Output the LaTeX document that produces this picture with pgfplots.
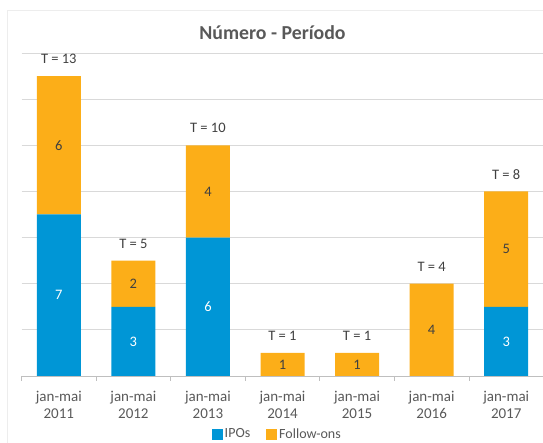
\documentclass[border=0pt]{standalone}
\usepackage{fontspec}
\setmainfont{Carlito}
\usepackage{pgfplots}
\pgfplotsset{compat=1.18}

\definecolor{ipo}{RGB}{0,150,214}
\definecolor{fol}{RGB}{252,174,24}
\definecolor{txt}{RGB}{89,89,89}
\definecolor{dtxt}{RGB}{64,64,64}
\definecolor{grd}{RGB}{217,217,217}

\pgfplotsset{base/.style={
    width=522pt, height=323pt, scale only axis,
    xmin=-0.5, xmax=6.5, ymin=0, ymax=14,
}}

\begin{document}
\begin{tikzpicture}
\begin{axis}[base, ybar stacked, bar width=44pt,
    axis x line*=bottom, axis y line*=left,
    y axis line style={draw=none},
    x axis line style={color=black!25, line width=0.8pt},
    major tick length=0pt,
    ytick={0,2,...,14}, yticklabels={},
    ymajorgrids, y grid style={grd, line width=0.8pt},
    xtick={0,...,6},
    xticklabels={{jan-mai\\2011},{jan-mai\\2012},{jan-mai\\2013},{jan-mai\\2014},{jan-mai\\2015},{jan-mai\\2016},{jan-mai\\2017}},
    xticklabel style={align=center, yshift=-12pt, font=\fontsize{15}{17}\selectfont, text=txt},
    extra x ticks={-0.5,0.5,...,6.5}, extra x tick labels={},
    extra x tick style={major tick length=5pt, tick align=outside,
        tick style={draw=black!25, line width=0.8pt}},
    legend columns=2,
    legend style={at={(0.49,-0.18)}, anchor=center, draw=none,
        font=\fontsize{14}{16}\selectfont, text=txt,
        /tikz/every even column/.append style={column sep=14pt}},
    legend image code/.code={\fill[#1] (0pt,-5.5pt) rectangle (11pt,5.5pt);},
]
\addplot[fill=ipo, draw=none] coordinates {(0,7) (1,3) (2,6) (3,0) (4,0) (5,0) (6,3)};
\addplot[fill=fol, draw=none] coordinates {(0,6) (1,2) (2,4) (3,1) (4,1) (5,4) (6,5)};
\legend{IPOs, Follow-ons}
\coordinate (O) at (rel axis cs:0,0);
\end{axis}

\begin{axis}[base, hide axis, clip=false]
% IPO segment labels (middle of segment)
\addplot[draw=none, mark=none, nodes near coords, point meta=explicit symbolic,
    nodes near coords style={anchor=center, text=white, font=\fontsize{14.5}{16}\selectfont}]
    coordinates {(0,3.5)[7] (1,1.5)[3] (2,3)[6] (6,1.5)[3]};
% Follow-on segment labels
\addplot[draw=none, mark=none, nodes near coords, point meta=explicit symbolic,
    nodes near coords style={anchor=center, text=dtxt, font=\fontsize{14.5}{16}\selectfont}]
    coordinates {(0,10)[6] (1,4)[2] (2,8)[4] (3,0.5)[1] (4,0.5)[1] (5,2)[4] (6,5.5)[5]};
% totals
\addplot[draw=none, mark=none, nodes near coords, point meta=explicit symbolic,
    nodes near coords style={anchor=center, yshift=17pt, text=dtxt, font=\fontsize{14.5}{16}\selectfont}]
    coordinates {(0,13)[T = 13] (1,5)[T = 5] (2,10)[T = 10] (3,1)[T = 1] (4,1)[T = 1] (5,4)[T = 4] (6,8)[T = 8]};
\end{axis}

\draw[color=black!7] ([shift={(-14.5pt,-67pt)}]O) -- ([shift={(-14.5pt,366pt)}]O) -- ([shift={(521.5pt,366pt)}]O);
\node[font=\fontsize{19.8}{22}\selectfont\bfseries, text=txt] at ([shift={(251pt,343pt)}]O) {Número - Período};

\pgfresetboundingbox
\useasboundingbox ([shift={(-21.5pt,-67pt)}]O) rectangle ([shift={(521.5pt,376pt)}]O);
\end{tikzpicture}
\end{document}
